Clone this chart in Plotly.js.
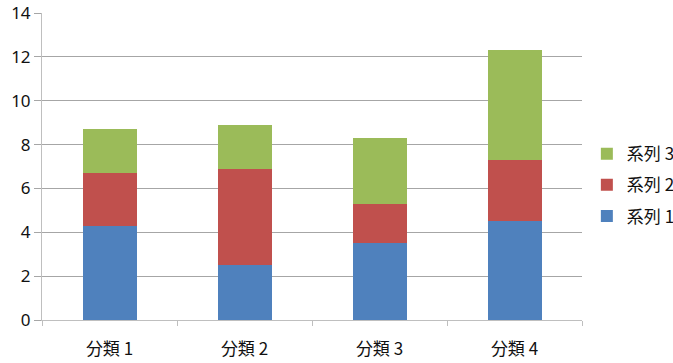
<!DOCTYPE html>
<html><head><meta charset="utf-8">
<script src="https://cdn.plot.ly/plotly-3.0.1.min.js"></script>
<style>html,body{margin:0;padding:0;background:#fff;}</style>
</head><body><div id="chart" style="width:673px;height:363px;"></div>
<script>
const categories = ["分類 1", "分類 2", "分類 3", "分類 4"];
const seriesNames = ["系列 1", "系列 2", "系列 3"];
const series1 = [4.3, 2.5, 3.5, 4.5];
const series2 = [2.4, 4.4, 1.8, 2.8];
const series3 = [2.0, 2.0, 3.0, 5.0];
const yTicks = [0, 2, 4, 6, 8, 10, 12, 14];
const colors = ["#4F81BD", "#C0504D", "#9BBB59"];
const font = '"Noto Sans CJK JP", "Noto Sans", sans-serif';

const data = [series1, series2, series3].map((vals, i) => ({
  type: "bar", x: categories, y: vals, name: seriesNames[i],
  legendgroup: "g" + i, legendrank: 3 - i,
  marker: {color: colors[i], line: {width: 0}},
  hoverinfo: "y"
}));

const layout = {
  width: 673, height: 363,
  margin: {l: 42, r: 91, t: 13, b: 43, autoexpand: false},
  barmode: "stack", bargap: 0.6,
  paper_bgcolor: "#fff", plot_bgcolor: "#fff",
  font: {family: font, size: 17, color: "#111"},
  xaxis: {
    type: "category", showgrid: false, showline: true, linecolor: "#BFBFBF", linewidth: 1,
    ticks: "outside", tickson: "boundaries", ticklen: 5, tickcolor: "#BFBFBF",
    ticklabelstandoff: 14, zeroline: false, automargin: false,
    tickfont: {family: font, size: 17, color: "#111"}
  },
  yaxis: {
    range: [0, 14], tickvals: yTicks, ticktext: yTicks.map(String),
    showgrid: true, gridcolor: "#A6A6A6", gridwidth: 1,
    showline: true, linecolor: "#BFBFBF", linewidth: 1,
    ticks: "outside", ticklen: 7, tickcolor: "#A6A6A6", zeroline: false, automargin: false,
    ticklabeloverflow: "allow",
    tickfont: {family: '"Noto Sans", sans-serif', size: 17, color: "#111"}
  },
  legend: {
    xref: "container", yref: "container",
    x: 0.872, y: 0.49, xanchor: "left", yanchor: "middle",
    traceorder: "grouped", tracegroupgap: 6,
    font: {family: font, size: 17, color: "#111"},
    bgcolor: "rgba(0,0,0,0)"
  },
  showlegend: true
};

Plotly.newPlot("chart", data, layout, {displayModeBar: false, staticPlot: true});
</script></body></html>
